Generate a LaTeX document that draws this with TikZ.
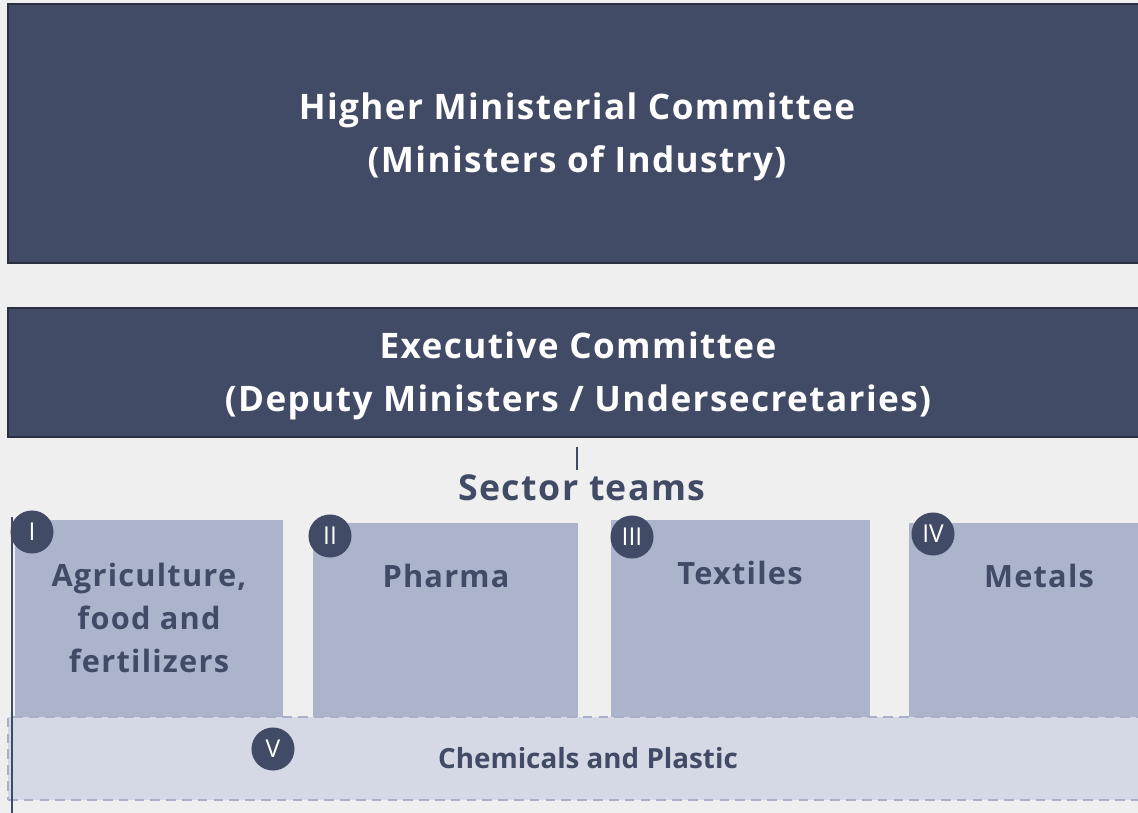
\documentclass[tikz,border=0pt]{standalone}
\usepackage{fontspec}
\setmainfont{Open Sans}
\newfontfamily\headfont{Open Sans}[LetterSpace=4]
\newfontfamily\badgefont{Open Sans}
\usetikzlibrary{positioning,fit}

\definecolor{canvas}{HTML}{EFEFEF}
\definecolor{navy}{HTML}{424B66}
\definecolor{navyedge}{HTML}{2A3042}
\definecolor{sectorfill}{HTML}{ACB4CC}
\definecolor{chemfill}{HTML}{D5D9E5}
\definecolor{chemedge}{HTML}{A9B0C8}

\begin{document}
\begin{tikzpicture}[
    x=0.02cm, y=-0.02cm,
    committee/.style={draw=navyedge, fill=navy, line width=1.2pt, inner sep=0pt},
    sector/.style={fill=sectorfill, inner sep=0pt},
    chembox/.style={draw=chemedge, fill=chemfill, line width=1.3pt, dash pattern=on 5.5pt off 3.5pt, inner sep=0pt},
    headtext/.style={text=white, font=\headfont\bfseries\fontsize{20}{30}\selectfont, align=center},
    sectortext/.style={text=navy, font=\headfont\bfseries\fontsize{17.5}{24.5}\selectfont, align=center},
    badge/.style={circle, fill=navy, text=white, minimum size=24.5pt, inner sep=0pt, font=\badgefont\fontsize{14}{14}\selectfont},
    link/.style={draw=navy, line width=0.6pt}
]
\useasboundingbox[fill=canvas] (0,0) rectangle (1138,813);
\clip (0,0) rectangle (1138,813);

% Committees
\node[committee, fit={(8,4) (1150,263)}] (higher) {};
\node[headtext] (highertext) at (577,137) {Higher Ministerial Committee\\(Ministers of Industry)};
\node[committee, fit={(8,308) (1150,437)}] (exec) {};
\node[headtext] (exectext) at (578,376) {Executive Committee\\(Deputy Ministers / Undersecretaries)};

% Sector teams
\node[text=navy, font=\headfont\bfseries\fontsize{20.3}{26}\selectfont] (teams) at (582,488) {Sector teams};
\coordinate (stub top) at (577,447);
\coordinate (stub bottom) at (577,470);
\draw[link] (stub top) -- (stub bottom);

\node[sector, fit={(15,520) (283,717)}] (agri) {};
\node[sector, fit={(313,523) (578,717)}] (pharma) {};
\node[sector, fit={(611,520) (870,717)}] (textiles) {};
\node[sector, fit={(909,523) (1170,717)}] (metals) {};

\node[sectortext] (agritext) at (149,618) {Agriculture,\\food and\\fertilizers};
\node[sectortext] (pharmatext) at (446,576) {Pharma};
\node[sectortext] (textilestext) at (740,573) {Textiles};
\node[sectortext] (metalstext) at (1039,576) {Metals};

% Cross-cutting team
\node[chembox, fit={(8,717) (1160,800)}] (chem) {};
\node[text=navy, font=\bfseries\fontsize{15.8}{18}\selectfont] (chemtext) at (588,758) {Chemicals and Plastic};

% Left rule
\coordinate (rule top) at (12,517);
\coordinate (rule bottom) at (12,813);
\draw[link] (rule top) -- (rule bottom);

% Badges
\node[badge] (b1) at (32,532) {I};
\node[badge] (b2) at (330,536) {II};
\node[badge] (b3) at (632,537) {III};
\node[badge] (b4) at (933,534) {IV};
\node[badge] (b5) at (273,749) {V};

\end{tikzpicture}
\end{document}
